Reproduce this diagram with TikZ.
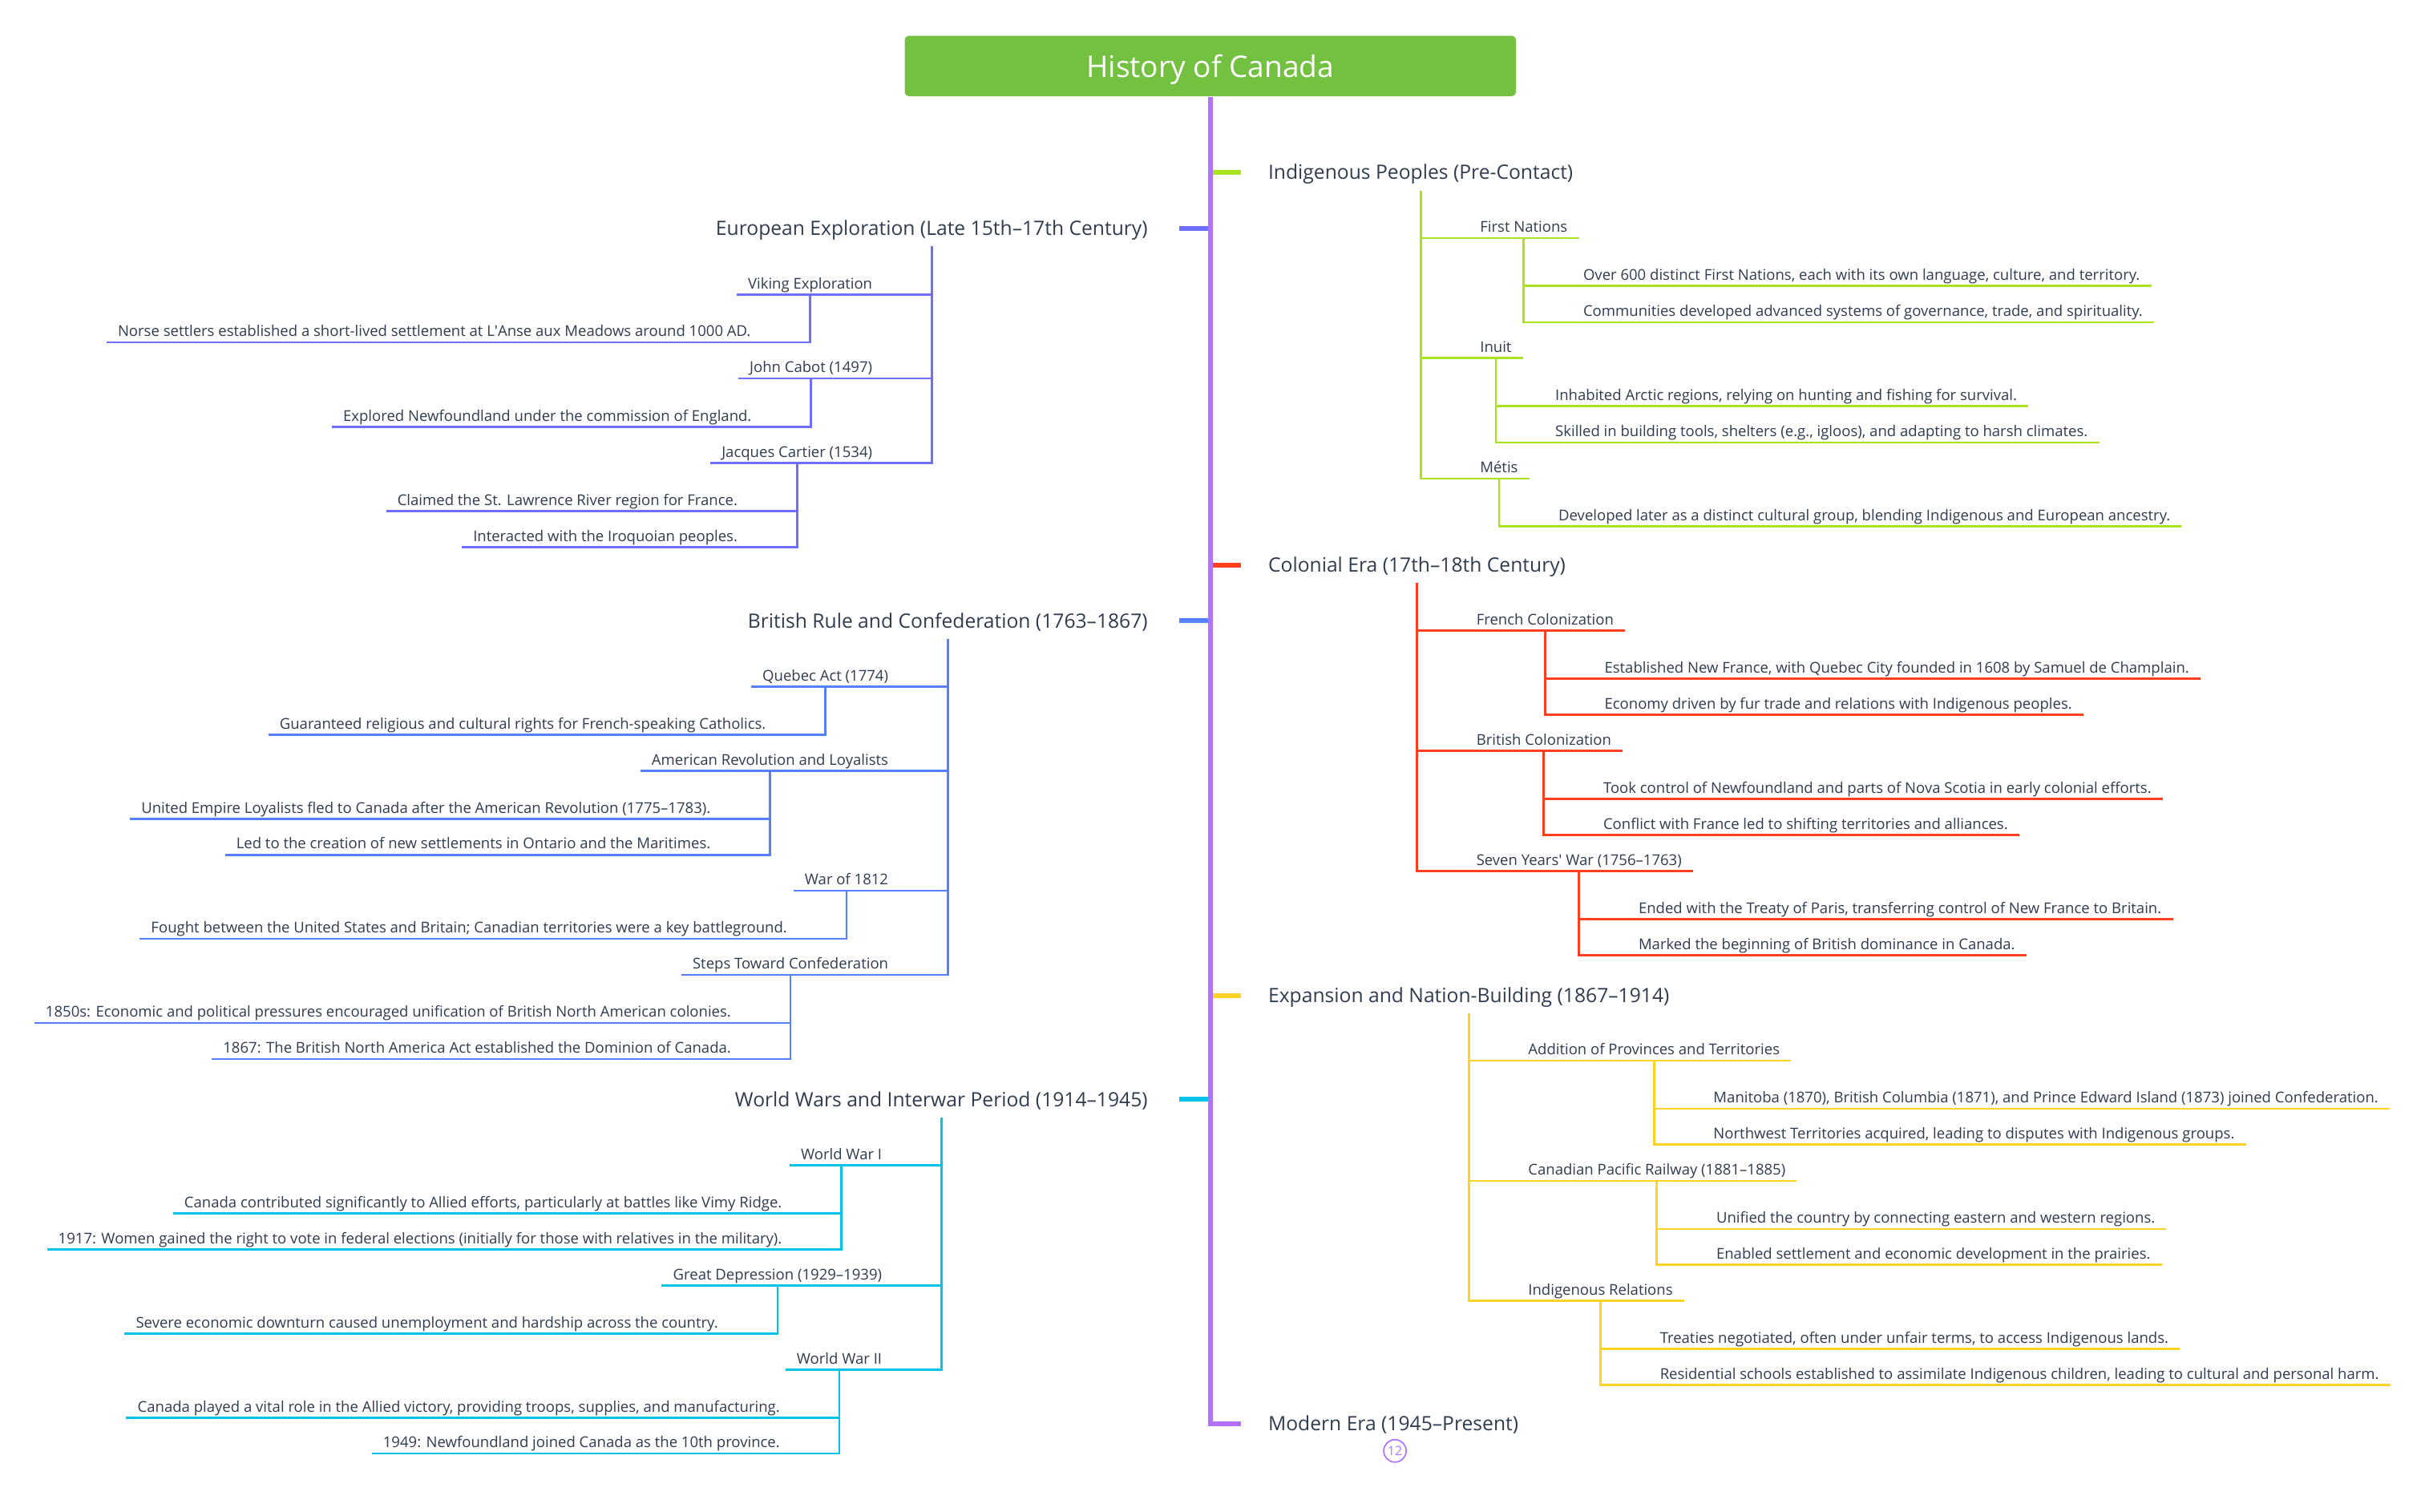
\documentclass[tikz,border=0pt]{standalone}
\usepackage{fontspec}
\setmainfont{Open Sans}
\usepackage{xcolor}
\usepackage{tikz}
\definecolor{ink}{HTML}{2F3B4F}
\definecolor{titlegreen}{HTML}{74C141}
\definecolor{trunkpurple}{HTML}{B072FF}
\definecolor{explblue}{HTML}{6E6EFF}
\definecolor{indglime}{HTML}{A8E31E}
\definecolor{colred}{HTML}{FF401F}
\definecolor{britblue}{HTML}{5480FF}
\definecolor{expyellow}{HTML}{FFD323}
\definecolor{warcyan}{HTML}{00C2EA}
\def\titlesize{\fontsize{10.9}{12}\selectfont}
\def\topicsize{\fontsize{7.25}{8}\selectfont}
\def\itemsize{\fontsize{5.45}{6}\selectfont}
\def\kidgap{0.62cm}

\begin{document}
\begin{tikzpicture}[x=0.02cm, y=-0.02cm,
		topic/.style={font=\topicsize, text=ink, inner xsep=0pt, inner ysep=3.5pt, text height=5.6pt, text depth=0.4pt},
		item/.style={font=\itemsize, text=ink, inner xsep=0.14cm, inner ysep=0.6pt, text height=3.8pt, text depth=1.3pt},
		itemR/.style={item, anchor=south west},
		itemL/.style={item, anchor=south east},
		stub/.style={line width=1.75pt},
		link/.style={line width=0.8pt},
	]
	\useasboundingbox (0,0) rectangle (1568,974);

	\node[fill=titlegreen, rounded corners=1.5pt, minimum width=7.88cm, minimum height=0.78cm, text=white, text depth=0pt, font=\titlesize] (root) at (780,42.5) {History of Canada};

	% main branches
	\node[topic, anchor=west] (indig) at (817,111) {Indigenous Peoples (Pre-Contact)};
	\node[topic, anchor=east] (europe) at (740,147) {European Exploration (Late 15th–17th Century)};
	\node[topic, anchor=west] (colonial) at (817,364) {Colonial Era (17th–18th Century)};
	\node[topic, anchor=east] (british) at (740,400) {British Rule and Confederation (1763–1867)};
	\node[topic, anchor=west] (expansion) at (817,641.5) {Expansion and Nation-Building (1867–1914)};
	\node[topic, anchor=east] (wars) at (740,708.5) {World Wars and Interwar Period (1914–1945)};
	\node[topic, anchor=west] (modern) at (817,917.5) {Modern Era (1945–Present)};
	\node[draw=trunkpurple, line width=0.5pt, circle, minimum size=0.29cm, inner sep=0pt, text=trunkpurple, font=\fontsize{4.7}{5}\selectfont] (count) at (899,935) {12};

	\draw[stub, indglime] (root.south |- indig.west) -- ([xshift=-0.34cm]indig.west);
	\draw[stub, explblue] (root.south |- europe.east) -- ([xshift=0.4cm]europe.east);
	\draw[stub, colred] (root.south |- colonial.west) -- ([xshift=-0.34cm]colonial.west);
	\draw[stub, britblue] (root.south |- british.east) -- ([xshift=0.4cm]british.east);
	\draw[stub, expyellow] (root.south |- expansion.west) -- ([xshift=-0.34cm]expansion.west);
	\draw[stub, warcyan] (root.south |- wars.east) -- ([xshift=0.4cm]wars.east);
	\draw[stub, trunkpurple] (root.south) |- ([xshift=-0.34cm]modern.west);

	% Indigenous Peoples
	\node[itemR] (nations) at ([xshift=\kidgap]indig.south |- 0,153.4) {First Nations};
	\node[itemR] (nations1) at ([xshift=\kidgap]nations.south |- 0,184.3) {Over 600 distinct First Nations, each with its own language, culture, and territory.};
	\node[itemR] (nations2) at ([xshift=\kidgap]nations.south |- 0,207.7) {Communities developed advanced systems of governance, trade, and spirituality.};
	\node[itemR] (inuit) at ([xshift=\kidgap]indig.south |- 0,230.8) {Inuit};
	\node[itemR] (inuit1) at ([xshift=\kidgap]inuit.south |- 0,261.8) {Inhabited Arctic regions, relying on hunting and fishing for survival.};
	\node[itemR] (inuit2) at ([xshift=\kidgap]inuit.south |- 0,285.2) {Skilled in building tools, shelters (e.g., igloos), and adapting to harsh climates.};
	\node[itemR] (metis) at ([xshift=\kidgap]indig.south |- 0,308.4) {Métis};
	\node[itemR] (metis1) at ([xshift=\kidgap]metis.south |- 0,339.3) {Developed later as a distinct cultural group, blending Indigenous and European ancestry.};
	\foreach \kid in {nations,inuit,metis}
		\draw[link, indglime] (indig.south) |- (\kid.south east);
	\foreach \kid in {nations1,nations2}
		\draw[link, indglime] (nations.south) |- (\kid.south east);
	\foreach \kid in {inuit1,inuit2}
		\draw[link, indglime] (inuit.south) |- (\kid.south east);
	\draw[link, indglime] (metis.south) |- (metis1.south east);

	% Colonial Era
	\node[itemR] (french) at ([xshift=\kidgap]colonial.south |- 0,406.4) {French Colonization};
	\node[itemR] (french1) at ([xshift=\kidgap]french.south |- 0,437.4) {Established New France, with Quebec City founded in 1608 by Samuel de Champlain.};
	\node[itemR] (french2) at ([xshift=\kidgap]french.south |- 0,460.6) {Economy driven by fur trade and relations with Indigenous peoples.};
	\node[itemR] (britcol) at ([xshift=\kidgap]colonial.south |- 0,483.8) {British Colonization};
	\node[itemR] (britcol1) at ([xshift=\kidgap]britcol.south |- 0,514.8) {Took control of Newfoundland and parts of Nova Scotia in early colonial efforts.};
	\node[itemR] (britcol2) at ([xshift=\kidgap]britcol.south |- 0,538) {Conflict with France led to shifting territories and alliances.};
	\node[itemR] (sevenyears) at ([xshift=\kidgap]colonial.south |- 0,561.2) {Seven Years\textquotesingle\ War (1756–1763)};
	\node[itemR] (sevenyears1) at ([xshift=\kidgap]sevenyears.south |- 0,592.2) {Ended with the Treaty of Paris, transferring control of New France to Britain.};
	\node[itemR] (sevenyears2) at ([xshift=\kidgap]sevenyears.south |- 0,615.4) {Marked the beginning of British dominance in Canada.};
	\foreach \kid in {french,britcol,sevenyears}
		\draw[link, colred] (colonial.south) |- (\kid.south east);
	\foreach \kid in {french1,french2}
		\draw[link, colred] (french.south) |- (\kid.south east);
	\foreach \kid in {britcol1,britcol2}
		\draw[link, colred] (britcol.south) |- (\kid.south east);
	\foreach \kid in {sevenyears1,sevenyears2}
		\draw[link, colred] (sevenyears.south) |- (\kid.south east);

	% Expansion and Nation-Building
	\node[itemR] (provinces) at ([xshift=\kidgap]expansion.south |- 0,683.5) {Addition of Provinces and Territories};
	\node[itemR] (provinces1) at ([xshift=\kidgap]provinces.south |- 0,714.5) {Manitoba (1870), British Columbia (1871), and Prince Edward Island (1873) joined Confederation.};
	\node[itemR] (provinces2) at ([xshift=\kidgap]provinces.south |- 0,737.5) {Northwest Territories acquired, leading to disputes with Indigenous groups.};
	\node[itemR] (railway) at ([xshift=\kidgap]expansion.south |- 0,761) {Canadian Pacific Railway (1881–1885)};
	\node[itemR] (railway1) at ([xshift=\kidgap]railway.south |- 0,792) {Unified the country by connecting eastern and western regions.};
	\node[itemR] (railway2) at ([xshift=\kidgap]railway.south |- 0,815) {Enabled settlement and economic development in the prairies.};
	\node[itemR] (relations) at ([xshift=\kidgap]expansion.south |- 0,838.3) {Indigenous Relations};
	\node[itemR] (relations1) at ([xshift=\kidgap]relations.south |- 0,869.2) {Treaties negotiated, often under unfair terms, to access Indigenous lands.};
	\node[itemR] (relations2) at ([xshift=\kidgap]relations.south |- 0,892.5) {Residential schools established to assimilate Indigenous children, leading to cultural and personal harm.};
	\foreach \kid in {provinces,railway,relations}
		\draw[link, expyellow] (expansion.south) |- (\kid.south east);
	\foreach \kid in {provinces1,provinces2}
		\draw[link, expyellow] (provinces.south) |- (\kid.south east);
	\foreach \kid in {railway1,railway2}
		\draw[link, expyellow] (railway.south) |- (\kid.south east);
	\foreach \kid in {relations1,relations2}
		\draw[link, expyellow] (relations.south) |- (\kid.south east);

	% European Exploration
	\node[itemL] (viking) at ([xshift=-\kidgap]europe.south |- 0,189.7) {Viking Exploration};
	\node[itemL] (viking1) at ([xshift=-\kidgap]viking.south |- 0,220.6) {Norse settlers established a short-lived settlement at L\textquotesingle Anse aux Meadows around 1000 AD.};
	\node[itemL] (cabot) at ([xshift=-\kidgap]europe.south |- 0,243.9) {John Cabot (1497)};
	\node[itemL] (cabot1) at ([xshift=-\kidgap]cabot.south |- 0,275) {Explored Newfoundland under the commission of England.};
	\node[itemL] (cartier) at ([xshift=-\kidgap]europe.south |- 0,298.3) {Jacques Cartier (1534)};
	\node[itemL] (cartier1) at ([xshift=-\kidgap]cartier.south |- 0,329.3) {Claimed the St. Lawrence River region for France.};
	\node[itemL] (cartier2) at ([xshift=-\kidgap]cartier.south |- 0,352.5) {Interacted with the Iroquoian peoples.};
	\foreach \kid in {viking,cabot,cartier}
		\draw[link, explblue] (europe.south) |- (\kid.south west);
	\draw[link, explblue] (viking.south) |- (viking1.south west);
	\draw[link, explblue] (cabot.south) |- (cabot1.south west);
	\foreach \kid in {cartier1,cartier2}
		\draw[link, explblue] (cartier.south) |- (\kid.south west);

	% British Rule and Confederation
	\node[itemL] (quebec) at ([xshift=-\kidgap]british.south |- 0,442.4) {Quebec Act (1774)};
	\node[itemL] (quebec1) at ([xshift=-\kidgap]quebec.south |- 0,473.4) {Guaranteed religious and cultural rights for French-speaking Catholics.};
	\node[itemL] (loyalists) at ([xshift=-\kidgap]british.south |- 0,496.6) {American Revolution and Loyalists};
	\node[itemL] (loyalists1) at ([xshift=-\kidgap]loyalists.south |- 0,527.6) {United Empire Loyalists fled to Canada after the American Revolution (1775–1783).};
	\node[itemL] (loyalists2) at ([xshift=-\kidgap]loyalists.south |- 0,550.8) {Led to the creation of new settlements in Ontario and the Maritimes.};
	\node[itemL] (war) at ([xshift=-\kidgap]british.south |- 0,574) {War of 1812};
	\node[itemL] (war1) at ([xshift=-\kidgap]war.south |- 0,605) {Fought between the United States and Britain; Canadian territories were a key battleground.};
	\node[itemL] (confed) at ([xshift=-\kidgap]british.south |- 0,628.2) {Steps Toward Confederation};
	\node[itemL] (confed1) at ([xshift=-\kidgap]confed.south |- 0,659.2) {1850s: Economic and political pressures encouraged unification of British North American colonies.};
	\node[itemL] (confed2) at ([xshift=-\kidgap]confed.south |- 0,682.4) {1867: The British North America Act established the Dominion of Canada.};
	\foreach \kid in {quebec,loyalists,war,confed}
		\draw[link, britblue] (british.south) |- (\kid.south west);
	\draw[link, britblue] (quebec.south) |- (quebec1.south west);
	\foreach \kid in {loyalists1,loyalists2}
		\draw[link, britblue] (loyalists.south) |- (\kid.south west);
	\draw[link, britblue] (war.south) |- (war1.south west);
	\foreach \kid in {confed1,confed2}
		\draw[link, britblue] (confed.south) |- (\kid.south west);

	% World Wars and Interwar Period
	\node[itemL] (wwone) at ([xshift=-\kidgap]wars.south |- 0,750.8) {World War I};
	\node[itemL] (wwone1) at ([xshift=-\kidgap]wwone.south |- 0,781.9) {Canada contributed significantly to Allied efforts, particularly at battles like Vimy Ridge.};
	\node[itemL] (wwone2) at ([xshift=-\kidgap]wwone.south |- 0,805) {1917: Women gained the right to vote in federal elections (initially for those with relatives in the military).};
	\node[itemL] (depression) at ([xshift=-\kidgap]wars.south |- 0,828.4) {Great Depression (1929–1939)};
	\node[itemL] (depression1) at ([xshift=-\kidgap]depression.south |- 0,859.3) {Severe economic downturn caused unemployment and hardship across the country.};
	\node[itemL] (wwtwo) at ([xshift=-\kidgap]wars.south |- 0,882.6) {World War II};
	\node[itemL] (wwtwo1) at ([xshift=-\kidgap]wwtwo.south |- 0,913.5) {Canada played a vital role in the Allied victory, providing troops, supplies, and manufacturing.};
	\node[itemL] (wwtwo2) at ([xshift=-\kidgap]wwtwo.south |- 0,936.7) {1949: Newfoundland joined Canada as the 10th province.};
	\foreach \kid in {wwone,depression,wwtwo}
		\draw[link, warcyan] (wars.south) |- (\kid.south west);
	\foreach \kid in {wwone1,wwone2}
		\draw[link, warcyan] (wwone.south) |- (\kid.south west);
	\draw[link, warcyan] (depression.south) |- (depression1.south west);
	\foreach \kid in {wwtwo1,wwtwo2}
		\draw[link, warcyan] (wwtwo.south) |- (\kid.south west);
\end{tikzpicture}
\end{document}
